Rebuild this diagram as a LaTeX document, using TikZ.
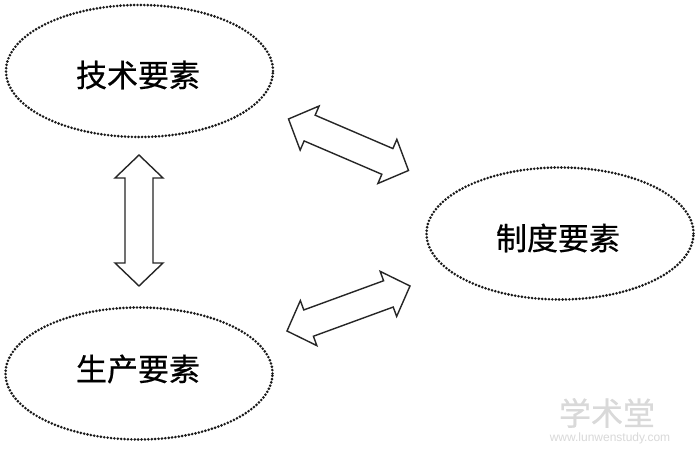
\documentclass[tikz,border=0pt]{standalone}
\usepackage{fontspec}
\newfontfamily\cjk[FakeBold=0.6]{Noto Sans CJK SC}
\setsansfont{Liberation Sans}
\usetikzlibrary{shapes.geometric,calc}
\tikzset{
  elem/.style={ellipse, draw=black!90, line width=2.9pt, dash pattern=on 0pt off 3.4pt, line cap=round,
    minimum width=267pt, minimum height=132pt, inner sep=0pt},
  lbl/.style={font=\cjk\fontsize{31}{31}\selectfont, inner sep=0pt},
  harrow/.style={draw=black!85, fill=white, line width=1.4pt, line join=miter},
  wm/.style={text=gray!30, inner sep=0pt}
}
\newcommand\dblarrow[3]{% #1 start, #2 end, #3 id
  \coordinate (#3ha) at ($(#1)!23pt!(#2)$);
  \coordinate (#3hb) at ($(#2)!23pt!(#1)$);
  \draw[harrow] (#1)
    -- ($(#3ha)!24pt!90:(#2)$) -- ($(#3ha)!14pt!90:(#2)$)
    -- ($(#3hb)!14pt!-90:(#1)$) -- ($(#3hb)!24pt!-90:(#1)$)
    -- (#2)
    -- ($(#3hb)!24pt!90:(#1)$) -- ($(#3hb)!14pt!90:(#1)$)
    -- ($(#3ha)!14pt!-90:(#2)$) -- ($(#3ha)!24pt!-90:(#2)$)
    -- cycle;
}
\begin{document}
\begin{tikzpicture}[x=1pt,y=1pt]
\useasboundingbox[fill=white] (0,0) rectangle (695,457);
\node[elem] (tech) at (139.5,386) {};
\node[elem] (prod) at (139,83.5) {};
\node[elem] (inst) at (560,223.5) {};
\node[lbl] (techl) at (138,382) {技术要素};
\node[lbl] (prodl) at (138,88) {生产要素};
\node[lbl] (instl) at (558,219) {制度要素};
\coordinate (v1) at (139,302);
\coordinate (v2) at (139,171);
\coordinate (t1) at (288.5,338);
\coordinate (t2) at (408.5,286.5);
\coordinate (b1) at (287,126);
\coordinate (b2) at (410,171);
\dblarrow{v1}{v2}{va}
\dblarrow{t1}{t2}{ta}
\dblarrow{b1}{b2}{ba}
\node[wm, font=\cjk\fontsize{32}{32}\selectfont] (wm1) at (607,44) {学术堂};
\node[wm, font=\sffamily\fontsize{12}{12}\selectfont] (wm2) at (610,19) {www.lunwenstudy.com};
\end{tikzpicture}
\end{document}
